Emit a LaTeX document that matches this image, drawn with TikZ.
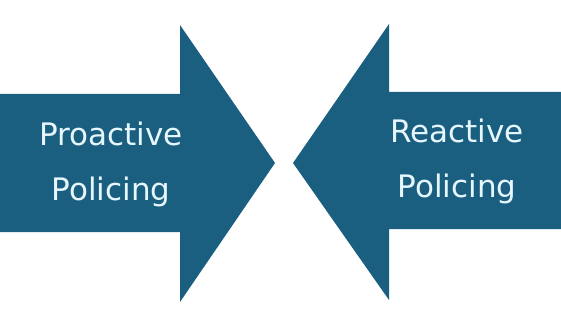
\documentclass[tikz,border=0pt]{standalone}
\usepackage{fontspec}
\setmainfont{DejaVu Sans}
\usetikzlibrary{positioning}
\definecolor{PoliceBlue}{HTML}{1A5F80}
\definecolor{PaleText}{HTML}{E6F7FD}

\begin{document}
\begin{tikzpicture}[x=1pt,y=1pt,
    arrowfill/.style={fill=PoliceBlue,draw=none},
    label/.style={text=PaleText,anchor=base,inner sep=0pt,font=\fontsize{31}{37}\selectfont}]
      \useasboundingbox (0,0) rectangle (561,316);
      % proactive arrow, pointing right
      \fill[arrowfill] (0,222)--(180,222)--(180,291)--(275,153)
        --(180,14)--(180,84)--(0,84)--cycle;
      % reactive arrow, pointing left
      \fill[arrowfill] (561,224)--(389,224)--(389,292)--(293,153)
        --(389,16)--(389,87)--(561,87)--cycle;
      \node[label] (pro) at (111,170) {Proactive};
      \node[label,below=54pt of pro.base,anchor=base] (propol) {Policing};
      \node[label] (rea) at (457,173) {Reactive};
      \node[label,below=54pt of rea.base,anchor=base] (reapol) {Policing};
    \end{tikzpicture}
\end{document}
